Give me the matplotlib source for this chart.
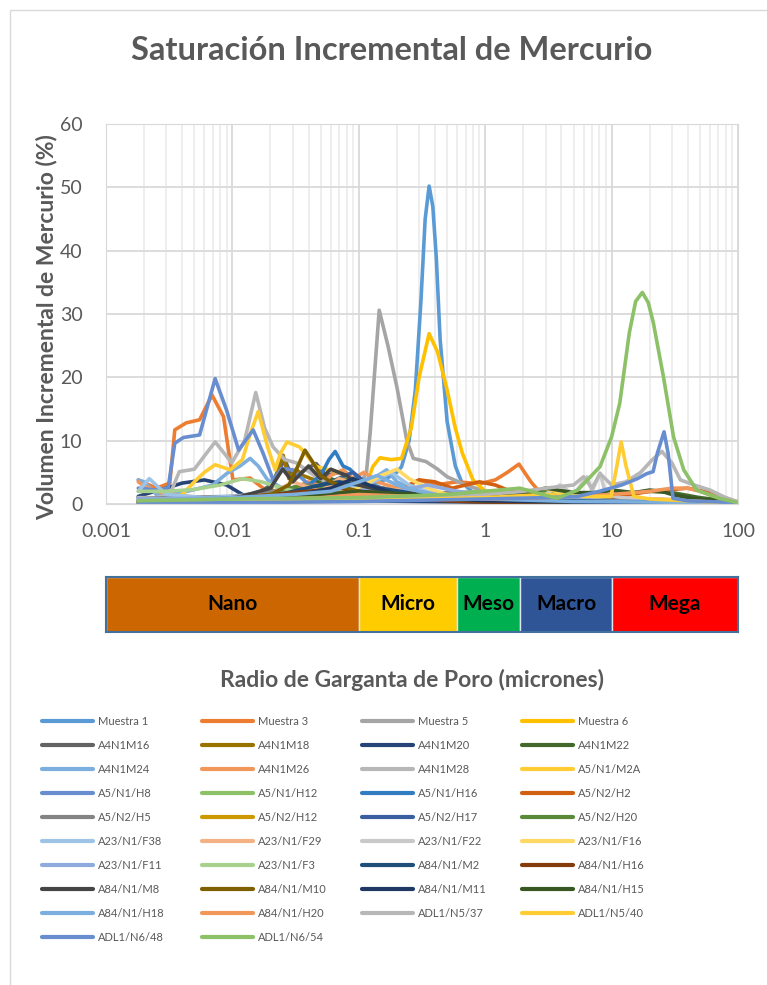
import matplotlib
matplotlib.use("Agg")
import matplotlib.pyplot as plt
from matplotlib.patches import Rectangle

plt.rcParams['font.family'] = ['Lato', 'DejaVu Sans']

# Radio de garganta (micrones) y volumen incremental (%) por muestra
r_muestra_1 = [0.0018, 0.003, 0.006, 0.012, 0.025, 0.05, 0.1, 0.15, 0.2, 0.218, 0.25, 0.28, 0.31, 0.335, 0.36, 0.385, 0.41, 0.44, 0.5, 0.58, 0.65, 0.8, 1.0, 2.0, 5, 10, 30, 100]
v_muestra_1 = [1.0, 0.8, 0.6, 0.7, 1.0, 1.5, 2.5, 3.5, 5.0, 5.9, 10.0, 18.0, 32.0, 45.0, 50.2, 47.0, 39.0, 26.0, 13.0, 6.0, 3.5, 1.8, 1.2, 0.8, 0.5, 0.4, 0.3, 0.2]

r_muestra_3 = [0.0018, 0.0025, 0.0032, 0.0035, 0.0043, 0.0055, 0.0069, 0.0085, 0.0101, 0.0138, 0.0175, 0.025, 0.04, 0.07, 0.12, 0.2, 0.3, 0.4, 0.6, 0.9, 1.2, 1.5, 1.85, 2.3, 2.8, 4, 8, 20, 40, 100]
v_muestra_3 = [3.8, 2.5, 3.3, 11.7, 12.8, 13.3, 17.2, 13.8, 3.8, 4.1, 2.5, 1.5, 1.0, 1.2, 1.5, 2.0, 3.8, 3.0, 3.5, 3.2, 3.8, 5.0, 6.3, 3.5, 1.5, 1.0, 0.8, 0.8, 0.6, 0.3]

r_muestra_5 = [0.0018, 0.004, 0.01, 0.03, 0.06, 0.09, 0.105, 0.115, 0.123, 0.145, 0.17, 0.2, 0.24, 0.27, 0.34, 0.42, 0.5, 0.7, 1.0, 2, 5, 20, 100]
v_muestra_5 = [0.5, 0.6, 0.8, 1.2, 1.8, 2.5, 3.5, 5.0, 11.2, 30.6, 25.0, 18.5, 10.0, 7.2, 6.7, 5.5, 4.3, 3.0, 2.0, 1.2, 0.8, 0.5, 0.3]

r_muestra_6 = [0.0018, 0.005, 0.01, 0.03, 0.06, 0.1, 0.115, 0.129, 0.147, 0.18, 0.218, 0.26, 0.3, 0.36, 0.42, 0.5, 0.58, 0.66, 0.8, 1.0, 2, 5, 20, 100]
v_muestra_6 = [0.3, 0.4, 0.6, 1.0, 1.5, 2.0, 3.0, 5.9, 7.3, 7.0, 7.2, 12.0, 20.0, 26.9, 24.0, 18.0, 12.0, 8.0, 3.8, 2.0, 1.0, 0.6, 0.4, 0.2]

r_a4n1m16 = [0.0018, 0.005, 0.01, 0.015, 0.02, 0.026, 0.03, 0.038, 0.046, 0.055, 0.07, 0.09, 0.12, 0.2, 0.5, 1, 3, 10, 100]
v_a4n1m16 = [0.5, 0.6, 0.8, 1.2, 3.0, 7.0, 4.0, 5.5, 6.4, 4.5, 5.0, 4.0, 3.0, 2.0, 1.2, 0.8, 0.5, 0.4, 0.2]

r_a4n1m18 = [0.0018, 0.005, 0.01, 0.015, 0.02, 0.0252, 0.028, 0.032, 0.036, 0.042, 0.05, 0.07, 0.1, 0.2, 0.5, 1, 3, 10, 100]
v_a4n1m18 = [0.3, 0.5, 0.8, 1.2, 2.0, 7.7, 4.0, 5.5, 4.5, 4.0, 3.5, 2.5, 1.8, 1.2, 0.8, 0.5, 0.4, 0.3, 0.2]

r_a4n1m20 = [0.0018, 0.002, 0.003, 0.004, 0.006, 0.009, 0.012, 0.02, 0.05, 0.1, 0.3, 1, 10, 100]
v_a4n1m20 = [1.2, 1.5, 2.5, 3.3, 3.8, 3.0, 1.5, 0.8, 0.6, 0.5, 0.4, 0.3, 0.2, 0.1]

r_a4n1m22 = [0.0018, 0.01, 0.02, 0.03, 0.045, 0.06, 0.08, 0.1, 0.15, 0.3, 0.6, 1, 2, 3, 5, 10, 20, 30, 50, 100]
v_a4n1m22 = [0.2, 0.5, 1.2, 2.5, 3.5, 4.0, 3.0, 3.5, 2.0, 1.5, 1.2, 1.0, 1.5, 1.8, 1.2, 1.5, 2.0, 1.8, 1.0, 0.3]

r_a4n1m24 = [0.0018, 0.002, 0.0025, 0.004, 0.007, 0.009, 0.0115, 0.0138, 0.016, 0.019, 0.025, 0.04, 0.07, 0.1, 0.166, 0.2, 0.3, 0.5, 1, 5, 100]
v_a4n1m24 = [3.8, 3.5, 1.5, 1.8, 3.0, 4.8, 6.0, 7.2, 6.0, 3.8, 2.5, 2.0, 2.0, 2.5, 5.4, 3.5, 2.0, 1.2, 0.8, 0.4, 0.2]

r_a4n1m26 = [0.0018, 0.002, 0.003, 0.006, 0.012, 0.02, 0.03, 0.04, 0.05, 0.06, 0.075, 0.09, 0.11, 0.14, 0.2, 0.3, 0.5, 1, 5, 100]
v_a4n1m26 = [3.5, 2.8, 1.5, 1.0, 1.0, 1.5, 2.5, 3.5, 2.8, 4.5, 5.4, 4.0, 5.0, 3.5, 2.5, 1.5, 1.0, 0.8, 0.5, 0.2]

r_a4n1m28 = [0.0018, 0.0025, 0.0032, 0.0038, 0.005, 0.0073, 0.0099, 0.0125, 0.0153, 0.018, 0.021, 0.026, 0.032, 0.046, 0.07, 0.1, 0.2, 0.5, 1, 5, 100]
v_a4n1m28 = [1.0, 1.0, 1.5, 5.1, 5.5, 9.8, 6.5, 10.0, 17.6, 12.0, 9.0, 7.0, 6.5, 4.3, 2.5, 2.0, 1.5, 1.0, 0.7, 0.4, 0.2]

r_a5n1m2a = [0.0018, 0.003, 0.004, 0.005, 0.006, 0.0073, 0.0096, 0.012, 0.0138, 0.016, 0.019, 0.0218, 0.024, 0.027, 0.034, 0.046, 0.07, 0.1, 0.15, 0.2, 0.3, 0.5, 1, 5, 100]
v_a5n1m2a = [0.3, 0.5, 1.5, 3.5, 5.0, 6.2, 5.4, 7.0, 11.0, 14.6, 9.0, 5.4, 8.0, 9.8, 9.0, 5.9, 5.0, 2.5, 2.0, 1.5, 1.0, 0.8, 0.5, 0.3, 0.1]

r_a5n1h8 = [0.0018, 0.0025, 0.0031, 0.0035, 0.0041, 0.0055, 0.0073, 0.009, 0.0112, 0.0146, 0.0175, 0.021, 0.0245, 0.030, 0.039, 0.06, 0.1, 0.2, 0.5, 1, 5, 100]
v_a5n1h8 = [2.5, 2.2, 2.5, 9.6, 10.5, 10.9, 19.8, 14.8, 8.5, 11.7, 8.0, 3.8, 5.6, 5.4, 3.3, 2.0, 1.5, 1.2, 0.8, 0.6, 0.4, 0.2]

r_a5n1h12 = [0.0018, 0.01, 0.05, 0.1, 0.3, 0.6, 1, 2, 3, 4, 6, 10, 30, 100]
v_a5n1h12 = [0.5, 0.8, 1.0, 1.2, 1.5, 1.8, 2.0, 2.2, 1.8, 1.0, 1.5, 0.8, 0.4, 0.2]

r_a5n1h16 = [0.0018, 0.005, 0.01, 0.02, 0.03, 0.04, 0.05, 0.058, 0.065, 0.075, 0.085, 0.1, 0.13, 0.2, 0.4, 1, 5, 100]
v_a5n1h16 = [0.3, 0.5, 0.8, 1.2, 2.0, 3.0, 4.5, 7.0, 8.3, 6.0, 5.5, 4.0, 2.5, 1.5, 1.0, 0.5, 0.3, 0.1]

r_a5n2h2 = [0.0018, 0.01, 0.05, 0.1, 0.2, 0.25, 0.3, 0.4, 0.55, 0.7, 0.9, 1.2, 1.6, 2.5, 5, 10, 20, 40, 60, 100]
v_a5n2h2 = [0.3, 0.5, 0.8, 1.0, 1.5, 3.0, 3.8, 3.5, 2.5, 3.0, 3.5, 3.0, 2.0, 1.0, 0.8, 1.0, 2.0, 2.5, 1.8, 0.3]

r_a5n2h5 = [0.0018, 0.003, 0.01, 0.02, 0.04, 0.07, 0.1, 0.2, 0.5, 1, 2, 5, 10, 30, 100]
v_a5n2h5 = [0.8, 1.0, 1.2, 2.0, 3.0, 2.5, 2.0, 1.5, 1.8, 1.2, 1.0, 0.8, 0.6, 0.4, 0.2]

r_a5n2h12 = [0.0018, 0.005, 0.01, 0.02, 0.03, 0.05, 0.08, 0.12, 0.2, 0.5, 1, 3, 10, 100]
v_a5n2h12 = [0.2, 0.4, 0.8, 1.5, 2.5, 2.0, 3.0, 2.5, 2.0, 1.0, 0.6, 0.4, 0.3, 0.1]

r_a5n2h17 = [0.0018, 0.005, 0.01, 0.02, 0.04, 0.06, 0.09, 0.12, 0.2, 0.4, 0.8, 2, 10, 100]
v_a5n2h17 = [0.5, 0.8, 1.0, 1.5, 2.5, 3.5, 5.0, 3.0, 2.0, 1.2, 1.5, 0.8, 0.4, 0.1]

r_a5n2h20 = [0.0018, 0.01, 0.02, 0.035, 0.05, 0.07, 0.1, 0.15, 0.3, 0.6, 1, 2, 3, 5, 10, 100]
v_a5n2h20 = [0.3, 0.6, 1.5, 3.0, 2.5, 4.0, 3.5, 2.0, 1.5, 1.0, 1.2, 1.8, 2.0, 1.0, 0.5, 0.1]

r_a23n1f38 = [0.0018, 0.0022, 0.003, 0.006, 0.01, 0.02, 0.04, 0.08, 0.13, 0.18, 0.25, 0.4, 0.8, 2, 10, 100]
v_a23n1f38 = [2.0, 4.0, 1.5, 1.0, 1.2, 1.5, 2.0, 2.5, 3.5, 5.0, 3.0, 1.5, 0.8, 0.5, 0.3, 0.1]

r_a23n1f29 = [0.0018, 0.005, 0.01, 0.02, 0.03, 0.05, 0.07, 0.1, 0.15, 0.25, 0.4, 0.7, 1, 2, 5, 100]
v_a23n1f29 = [0.5, 0.5, 0.8, 1.5, 3.5, 2.0, 4.0, 3.0, 2.5, 2.0, 1.5, 1.0, 0.8, 0.5, 0.3, 0.1]

r_a23n1f22 = [0.0018, 0.01, 0.05, 0.1, 0.3, 1, 2, 3, 3.9, 5, 6.4, 7, 8.1, 9, 12, 20, 50, 100]
v_a23n1f22 = [0.5, 0.6, 0.8, 1.0, 1.2, 1.5, 1.5, 1.5, 3.0, 1.5, 4.3, 2.0, 4.9, 1.5, 1.0, 0.8, 0.5, 0.2]

r_a23n1f16 = [0.0018, 0.01, 0.03, 0.06, 0.1, 0.15, 0.2, 0.25, 0.35, 0.5, 1, 2, 3, 5, 10, 100]
v_a23n1f16 = [0.2, 0.5, 1.0, 1.5, 2.5, 4.5, 5.5, 4.0, 2.5, 1.5, 1.0, 1.8, 2.5, 1.0, 0.4, 0.1]

r_a23n1f11 = [0.0018, 0.01, 0.03, 0.05, 0.08, 0.12, 0.2, 0.35, 0.6, 1, 3, 10, 100]
v_a23n1f11 = [0.8, 1.0, 1.5, 2.0, 1.5, 2.5, 2.0, 3.0, 2.0, 1.5, 1.0, 0.5, 0.2]

r_a23n1f3 = [0.0018, 0.003, 0.005, 0.008, 0.012, 0.017, 0.025, 0.04, 0.07, 0.1, 0.3, 1, 5, 100]
v_a23n1f3 = [2.0, 2.0, 2.3, 3.0, 4.0, 3.5, 2.5, 1.5, 1.0, 1.0, 0.8, 0.6, 0.4, 0.2]

r_a84n1m2 = [0.0018, 0.01, 0.02, 0.03, 0.05, 0.07, 0.1, 0.15, 0.3, 0.6, 1, 2, 5, 10, 20, 100]
v_a84n1m2 = [0.2, 0.4, 1.0, 2.0, 3.0, 3.5, 3.0, 2.5, 1.5, 1.0, 0.8, 0.6, 0.5, 0.4, 0.3, 0.1]

r_a84n1h16 = [0.0018, 0.005, 0.01, 0.02, 0.04, 0.07, 0.1, 0.2, 0.5, 1, 5, 100]
v_a84n1h16 = [0.1, 0.5, 1.0, 1.5, 2.0, 2.5, 2.0, 1.0, 0.5, 0.3, 0.2, 0.1]

r_a84n1m8 = [0.0018, 0.01, 0.02, 0.025, 0.03, 0.04, 0.05, 0.06, 0.08, 0.1, 0.2, 0.5, 1, 5, 100]
v_a84n1m8 = [0.3, 0.8, 2.5, 5.5, 3.5, 6.0, 4.0, 5.5, 4.5, 3.0, 1.5, 1.0, 0.6, 0.3, 0.1]

r_a84n1m10 = [0.0018, 0.005, 0.01, 0.02, 0.028, 0.033, 0.0375, 0.042, 0.05, 0.06, 0.08, 0.1, 0.2, 0.5, 1, 5, 100]
v_a84n1m10 = [0.3, 0.5, 0.8, 1.5, 3.0, 6.0, 8.5, 7.0, 4.5, 3.5, 2.5, 2.0, 1.2, 0.8, 0.5, 0.3, 0.1]

r_a84n1m11 = [0.0018, 0.01, 0.03, 0.06, 0.09, 0.12, 0.2, 0.4, 1, 5, 100]
v_a84n1m11 = [0.2, 0.5, 1.2, 2.5, 4.0, 3.0, 1.5, 1.0, 0.5, 0.3, 0.1]

r_a84n1h15 = [0.0018, 0.01, 0.05, 0.1, 0.3, 1, 2, 3, 5, 8, 10, 15, 20, 25, 30, 40, 60, 100]
v_a84n1h15 = [0.2, 0.5, 1.5, 2.0, 1.5, 1.2, 1.5, 2.5, 1.8, 1.8, 2.2, 1.8, 2.2, 2.0, 1.5, 1.0, 0.6, 0.2]

r_a84n1h18 = [0.0018, 0.005, 0.01, 0.03, 0.06, 0.1, 0.14, 0.2, 0.3, 0.5, 1, 5, 100]
v_a84n1h18 = [0.5, 0.8, 1.0, 1.5, 2.0, 3.5, 4.5, 3.0, 2.0, 1.2, 0.8, 0.4, 0.2]

r_a84n1h20 = [0.0018, 0.01, 0.05, 0.1, 0.5, 1, 3, 10, 20, 30, 40, 50, 70, 100]
v_a84n1h20 = [0.2, 0.5, 1.0, 1.5, 1.0, 0.8, 1.0, 1.5, 2.0, 2.5, 2.5, 2.0, 1.0, 0.3]

r_adl1n537 = [0.0018, 0.01, 0.1, 0.5, 1, 2, 3, 5, 6, 7, 8.1, 10, 13, 17, 21, 25, 30, 35, 45, 60, 80, 100]
v_adl1n537 = [0.2, 0.3, 0.5, 1.0, 1.5, 2.0, 2.5, 3.0, 4.3, 2.5, 4.8, 3.0, 3.5, 5.0, 7.0, 8.3, 6.5, 3.8, 3.0, 2.2, 1.0, 0.3]

r_adl1n540 = [0.0018, 0.01, 0.1, 1, 3, 6, 9.9, 11, 11.9, 13, 15, 20, 50, 100]
v_adl1n540 = [0.1, 0.2, 0.5, 1.0, 1.5, 1.2, 1.2, 6.0, 9.8, 6.0, 1.2, 0.8, 0.4, 0.1]

r_adl1n648 = [0.0018, 0.01, 0.1, 1, 3, 5.4, 8, 12, 16, 19, 21.3, 23, 26, 28, 30.6, 40, 100]
v_adl1n648 = [0.1, 0.2, 0.4, 0.8, 1.0, 1.2, 2.0, 3.0, 4.0, 4.8, 5.1, 8.0, 11.4, 8.0, 0.9, 0.5, 0.2]

r_adl1n654 = [0.0018, 0.01, 0.1, 0.5, 1, 1.88, 3.68, 5.4, 8.1, 10, 11.6, 13.8, 15.5, 17.5, 19.5, 21.4, 25.7, 30.9, 37.2, 47, 71, 100]
v_adl1n654 = [0.5, 0.8, 1.0, 1.5, 2.0, 2.5, 0.9, 2.2, 5.9, 10.6, 15.9, 27.0, 32.0, 33.4, 31.8, 28.6, 20.1, 10.6, 5.4, 2.2, 0.9, 0.2]

nombres = ['Muestra 1', 'Muestra 3', 'Muestra 5', 'Muestra 6',
           'A4N1M16', 'A4N1M18', 'A4N1M20', 'A4N1M22',
           'A4N1M24', 'A4N1M26', 'A4N1M28', 'A5/N1/M2A',
           'A5/N1/H8', 'A5/N1/H12', 'A5/N1/H16', 'A5/N2/H2',
           'A5/N2/H5', 'A5/N2/H12', 'A5/N2/H17', 'A5/N2/H20',
           'A23/N1/F38', 'A23/N1/F29', 'A23/N1/F22', 'A23/N1/F16',
           'A23/N1/F11', 'A23/N1/F3', 'A84/N1/M2', 'A84/N1/H16',
           'A84/N1/M8', 'A84/N1/M10', 'A84/N1/M11', 'A84/N1/H15',
           'A84/N1/H18', 'A84/N1/H20', 'ADL1/N5/37', 'ADL1/N5/40',
           'ADL1/N6/48', 'ADL1/N6/54']

colores = ['#5B9BD5', '#ED7D31', '#A5A5A5', '#FFC000',
           '#636363', '#997300', '#264478', '#43682B',
           '#7CAFDD', '#F1975A', '#B7B7B7', '#FFCD33',
           '#698ED0', '#8CC168', '#327DC2', '#D26012',
           '#848484', '#CC9A00', '#3A5FA0', '#5A8A39',
           '#9DC3E6', '#F4B183', '#C9C9C9', '#FFD966',
           '#8FAADC', '#A9D18E', '#1F4E79', '#843C0C',
           '#454545', '#7F6000', '#203864', '#385723',
           '#7CAFDD', '#F1975A', '#B7B7B7', '#FFCD33',
           '#698ED0', '#8CC168']

radios = [r_muestra_1, r_muestra_3, r_muestra_5, r_muestra_6,
          r_a4n1m16, r_a4n1m18, r_a4n1m20, r_a4n1m22,
          r_a4n1m24, r_a4n1m26, r_a4n1m28, r_a5n1m2a,
          r_a5n1h8, r_a5n1h12, r_a5n1h16, r_a5n2h2,
          r_a5n2h5, r_a5n2h12, r_a5n2h17, r_a5n2h20,
          r_a23n1f38, r_a23n1f29, r_a23n1f22, r_a23n1f16,
          r_a23n1f11, r_a23n1f3, r_a84n1m2, r_a84n1h16,
          r_a84n1m8, r_a84n1m10, r_a84n1m11, r_a84n1h15,
          r_a84n1h18, r_a84n1h20, r_adl1n537, r_adl1n540,
          r_adl1n648, r_adl1n654]
volumenes = [v_muestra_1, v_muestra_3, v_muestra_5, v_muestra_6,
             v_a4n1m16, v_a4n1m18, v_a4n1m20, v_a4n1m22,
             v_a4n1m24, v_a4n1m26, v_a4n1m28, v_a5n1m2a,
             v_a5n1h8, v_a5n1h12, v_a5n1h16, v_a5n2h2,
             v_a5n2h5, v_a5n2h12, v_a5n2h17, v_a5n2h20,
             v_a23n1f38, v_a23n1f29, v_a23n1f22, v_a23n1f16,
             v_a23n1f11, v_a23n1f3, v_a84n1m2, v_a84n1h16,
             v_a84n1m8, v_a84n1m10, v_a84n1m11, v_a84n1h15,
             v_a84n1h18, v_a84n1h20, v_adl1n537, v_adl1n540,
             v_adl1n648, v_adl1n654]

# Clasificacion de tamano de poro
clases = ['Nano', 'Micro', 'Meso', 'Macro', 'Mega']
limites = [0.001, 0.1, 0.6, 1.9, 10, 100]
colores_clase = ['#CC6600', '#FFCC00', '#00B050', '#2F5597', '#FF0000']

x_ticks = [0.001, 0.01, 0.1, 1, 10, 100]
x_labels = ['0.001', '0.01', '0.1', '1', '10', '100']
y_ticks = [0, 10, 20, 30, 40, 50, 60]

gris = '#595959'
W, H = 767, 985
fig = plt.figure(figsize=(W / 100, H / 100), dpi=100)

# chart area border
fig.patches.append(Rectangle((10 / W, -0.05), 1.2, (H - 10) / H + 0.05, transform=fig.transFigure,
                             fill=False, edgecolor='#D9D9D9', lw=1))

ax = fig.add_axes([106 / W, 1 - 504 / H, (738 - 106) / W, (504 - 124) / H])
handles = []
for r, v, c, n in zip(radios, volumenes, colores, nombres):
    ln, = ax.plot(r, v, color=c, lw=2.6, label=n, solid_capstyle='round', solid_joinstyle='round')
    handles.append(ln)

ax.set_xscale('log')
ax.set_xlim(0.001, 100)
ax.set_ylim(0, 60)
ax.set_xticks(x_ticks, x_labels)
ax.set_yticks(y_ticks)
ax.grid(which='major', axis='both', color='#D9D9D9', lw=1.3)
ax.grid(which='minor', axis='x', color='#EAEAEA', lw=1.1)
ax.set_axisbelow(True)
ax.tick_params(which='both', length=0, labelsize=14, labelcolor=gris)
ax.tick_params(axis='x', pad=14)
ax.tick_params(axis='y', pad=17)
for s in ax.spines.values():
    s.set_color('#D9D9D9')
ax.set_ylabel('Volumen Incremental de Mercurio (%)', fontsize=16.5, fontweight='bold', color=gris)
ax.yaxis.set_label_coords((57 - 106) / (738 - 106), (504 - 327) / (504 - 124))

fig.text(0.511, 1 - 50 / H, 'Saturación Incremental de Mercurio', ha='center', va='center',
         fontsize=23.5, fontweight='bold', color=gris)

# banda de clases
bx = fig.add_axes([106 / W, 1 - 632 / H, (738 - 106) / W, 55 / H])
bx.set_xscale('log')
for a, b, cl, nm in zip(limites[:-1], limites[1:], colores_clase, clases):
    bx.barh(0.5, b - a, left=a, height=1, color=cl, edgecolor='#DDE6F0', lw=1)
    bx.text((a * b) ** 0.5, 0.5, nm, ha='center', va='center', fontsize=15, fontweight='bold', color='black')
bx.set_xlim(0.001, 100)
bx.set_ylim(0, 1)
bx.set_xticks([])
bx.set_yticks([])
bx.minorticks_off()
for s in bx.spines.values():
    s.set_color('#41719C')
    s.set_linewidth(1.5)

fig.text(412 / W, 1 - 680 / H, 'Radio de Garganta de Poro (micrones)', ha='center', va='center',
         fontsize=16.5, fontweight='bold', color=gris)

# leyenda: 4 columnas, orden por filas
col_x = [42, 202, 362, 522]
for c in range(4):
    leg = fig.legend(handles[c::4], nombres[c::4], loc='upper left',
                     bbox_to_anchor=(col_x[c] / W, 1 - 716 / H), frameon=False,
                     fontsize=8, handlelength=4.6, handletextpad=0.45, labelspacing=1.17,
                     borderpad=0, borderaxespad=0)
    for t in leg.get_texts():
        t.set_color(gris)
    for l in leg.get_lines():
        l.set_linewidth(3)

fig.savefig('out.png', dpi=100)
